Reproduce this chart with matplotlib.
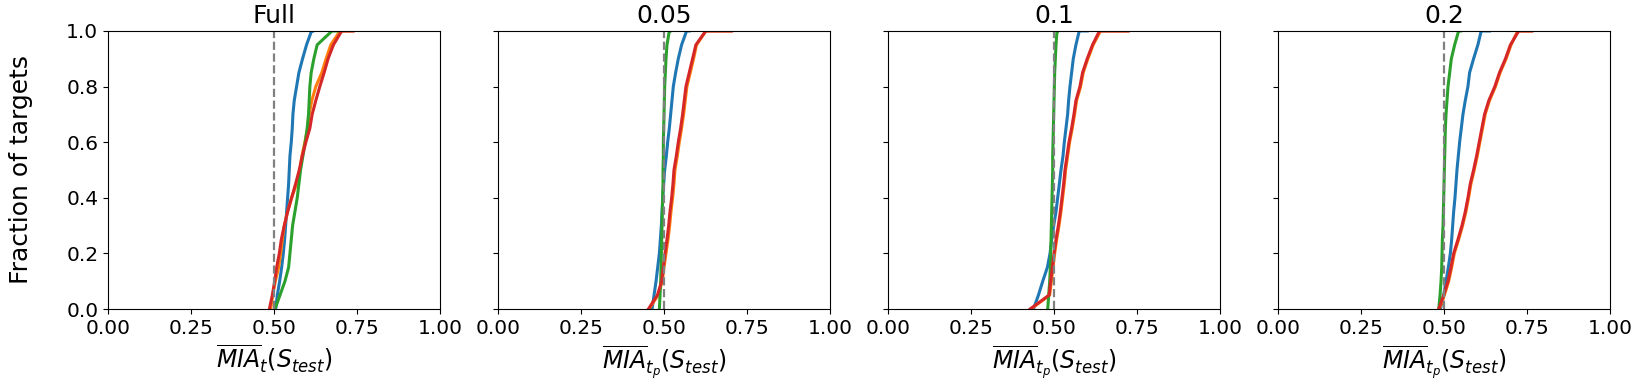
import numpy as np
import matplotlib
matplotlib.use('Agg')
import matplotlib.pyplot as plt

# fraction of targets at which each curve value was read (last 1.0 = end of top step)
frac = list(np.linspace(0, 1, 21)) + [1.0]

titles = ['Full', '0.05', '0.1', '0.2']
xlabels = [r'$\overline{MIA}_t(S_{test})$', r'$\overline{MIA}_{t_p}(S_{test})$',
           r'$\overline{MIA}_{t_p}(S_{test})$', r'$\overline{MIA}_{t_p}(S_{test})$']

# Full
full_blue = [0.505, 0.510, 0.517, 0.523, 0.528, 0.532, 0.535, 0.538, 0.541, 0.544, 0.546,
             0.548, 0.552, 0.555, 0.557, 0.561, 0.568, 0.575, 0.586, 0.598, 0.613, 0.617]
full_orange = [0.490, 0.496, 0.504, 0.514, 0.520, 0.525, 0.531, 0.541, 0.553, 0.568, 0.578,
               0.584, 0.593, 0.601, 0.606, 0.614, 0.626, 0.644, 0.657, 0.671, 0.699, 0.735]
full_green = [0.503, 0.518, 0.533, 0.544, 0.548, 0.552, 0.556, 0.563, 0.570, 0.575, 0.580,
              0.587, 0.594, 0.600, 0.604, 0.606, 0.608, 0.612, 0.620, 0.630, 0.675, 0.699]
full_red = [0.486, 0.495, 0.502, 0.508, 0.516, 0.522, 0.531, 0.541, 0.553, 0.565, 0.576,
            0.585, 0.596, 0.608, 0.615, 0.626, 0.638, 0.651, 0.663, 0.679, 0.704, 0.739]

# 0.05
p05_blue = [0.464, 0.470, 0.476, 0.481, 0.486, 0.489, 0.492, 0.494, 0.496, 0.499, 0.502,
            0.507, 0.511, 0.516, 0.520, 0.524, 0.528, 0.535, 0.543, 0.553, 0.568, 0.576]
p05_orange = [0.455, 0.482, 0.495, 0.500, 0.506, 0.512, 0.517, 0.521, 0.526, 0.530, 0.533,
              0.540, 0.546, 0.553, 0.559, 0.564, 0.569, 0.579, 0.589, 0.598, 0.626, 0.700]
p05_green = [0.486, 0.488, 0.490, 0.491, 0.492, 0.493, 0.494, 0.495, 0.496, 0.497, 0.497,
             0.498, 0.498, 0.499, 0.500, 0.501, 0.502, 0.504, 0.506, 0.509, 0.516, 0.518]
p05_red = [0.453, 0.480, 0.493, 0.498, 0.503, 0.509, 0.514, 0.518, 0.523, 0.527, 0.530,
           0.537, 0.543, 0.550, 0.556, 0.561, 0.566, 0.576, 0.586, 0.596, 0.626, 0.704]

# 0.1
p1_blue = [0.438, 0.453, 0.466, 0.480, 0.488, 0.493, 0.499, 0.506, 0.511, 0.516, 0.521,
           0.527, 0.531, 0.536, 0.541, 0.544, 0.548, 0.553, 0.558, 0.566, 0.576, 0.600]
p1_orange = [0.430, 0.487, 0.492, 0.497, 0.502, 0.508, 0.515, 0.521, 0.526, 0.531, 0.535,
             0.541, 0.547, 0.555, 0.562, 0.568, 0.580, 0.588, 0.602, 0.618, 0.640, 0.720]
p1_green = [0.481, 0.484, 0.487, 0.489, 0.490, 0.491, 0.492, 0.493, 0.494, 0.495, 0.496,
            0.496, 0.497, 0.498, 0.499, 0.500, 0.501, 0.502, 0.504, 0.506, 0.509, 0.511]
p1_red = [0.428, 0.485, 0.490, 0.495, 0.500, 0.506, 0.513, 0.519, 0.524, 0.529, 0.533,
          0.539, 0.545, 0.553, 0.560, 0.566, 0.578, 0.586, 0.600, 0.616, 0.637, 0.724]

# 0.2
p2_blue = [0.489, 0.499, 0.506, 0.513, 0.519, 0.523, 0.526, 0.529, 0.533, 0.536, 0.539,
           0.543, 0.547, 0.552, 0.557, 0.564, 0.572, 0.577, 0.589, 0.602, 0.612, 0.637]
p2_orange = [0.486, 0.501, 0.514, 0.523, 0.531, 0.544, 0.556, 0.566, 0.574, 0.581, 0.591,
             0.600, 0.608, 0.616, 0.624, 0.637, 0.655, 0.669, 0.687, 0.702, 0.722, 0.762]
p2_green = [0.484, 0.488, 0.491, 0.493, 0.494, 0.495, 0.497, 0.498, 0.499, 0.500, 0.501,
            0.502, 0.503, 0.504, 0.506, 0.509, 0.512, 0.517, 0.522, 0.532, 0.544, 0.550]
p2_red = [0.484, 0.499, 0.512, 0.521, 0.529, 0.542, 0.554, 0.564, 0.572, 0.579, 0.589,
          0.598, 0.606, 0.614, 0.622, 0.635, 0.653, 0.667, 0.685, 0.700, 0.725, 0.765]

panels = [
    [full_blue, full_orange, full_green, full_red],
    [p05_blue, p05_orange, p05_green, p05_red],
    [p1_blue, p1_orange, p1_green, p1_red],
    [p2_blue, p2_orange, p2_green, p2_red],
]
colors = ['tab:blue', 'tab:orange', 'tab:green', 'tab:red']

fig, axes = plt.subplots(1, 4, figsize=(16.37, 3.82), dpi=100, sharey=True)
plt.subplots_adjust(left=0.066, right=0.9835, top=0.919, bottom=0.191, wspace=0.175)

for i, ax in enumerate(axes):
    for vals, c in zip(panels[i], colors):
        ax.plot(vals, frac, color=c, linewidth=2.2)
    ax.axvline(0.5, color='gray', linestyle='--', linewidth=1.6)
    ax.set_xlim(0, 1)
    ax.set_ylim(0, 1)
    ax.set_xticks([0, 0.25, 0.5, 0.75, 1.0])
    ax.tick_params(labelsize=14.5)
    ax.set_title(titles[i], fontsize=18)
    ax.set_xlabel(xlabels[i], fontsize=17)

axes[0].set_ylabel('Fraction of targets', fontsize=18)
axes[0].yaxis.set_label_coords(-0.225, 0.5)

plt.savefig('out.png')
